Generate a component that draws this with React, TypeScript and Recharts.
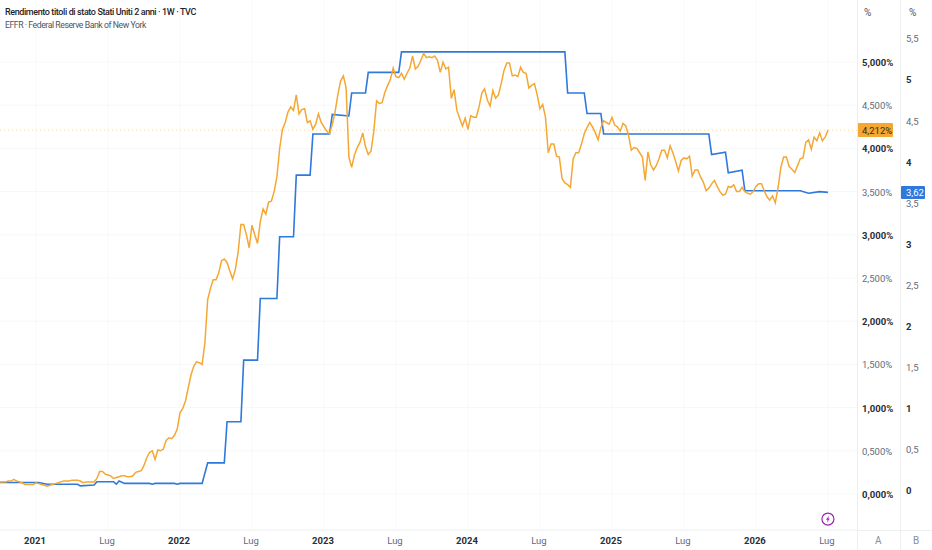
import { CartesianGrid, ComposedChart, Line, ReferenceDot, ReferenceLine, XAxis, YAxis } from "recharts";

// weekly close of the 2 year yield, week 0 is early October 2020
const yieldValues = [
  0.14, 0.14, 0.14, 0.15, 0.15, 0.17, 0.15, 0.14, 0.13, 0.11,
  0.11, 0.11, 0.11, 0.13, 0.12, 0.11, 0.10, 0.09, 0.10, 0.11,
  0.12, 0.13, 0.14, 0.15, 0.15, 0.15, 0.16, 0.16, 0.16, 0.15,
  0.13, 0.14, 0.14, 0.14, 0.14, 0.18, 0.26, 0.26, 0.23, 0.22,
  0.21, 0.18, 0.19, 0.20, 0.21, 0.21, 0.20, 0.20, 0.21, 0.25,
  0.26, 0.27, 0.33, 0.42, 0.48, 0.50, 0.40, 0.51, 0.50, 0.52,
  0.62, 0.65, 0.64, 0.68, 0.75, 0.94, 0.99, 1.08, 1.23, 1.38,
  1.48, 1.53, 1.52, 1.50, 1.75, 2.25, 2.38, 2.48, 2.48, 2.56,
  2.70, 2.72, 2.68, 2.58, 2.49, 2.60, 2.80, 3.12, 3.12, 3.00,
  2.85, 3.11, 3.00, 2.90, 3.15, 3.30, 3.24, 3.38, 3.39, 3.50,
  3.67, 4.00, 4.22, 4.30, 4.42, 4.48, 4.44, 4.62, 4.40, 4.45,
  4.46, 4.30, 4.32, 4.22, 4.28, 4.40, 4.30, 4.25, 4.20, 4.17,
  4.28, 4.42, 4.62, 4.78, 4.84, 4.70, 3.90, 3.78, 3.92, 4.01,
  4.07, 4.18, 4.02, 3.93, 3.97, 4.20, 4.55, 4.52, 4.53, 4.65,
  4.73, 4.80, 4.93, 4.83, 4.82, 4.87, 4.80, 4.87, 4.93, 5.07,
  4.92, 4.95, 5.02, 5.10, 5.05, 5.06, 5.05, 5.07, 5.02, 4.88,
  5.00, 4.92, 4.94, 4.58, 4.68, 4.44, 4.35, 4.26, 4.35, 4.22,
  4.38, 4.36, 4.36, 4.48, 4.64, 4.69, 4.56, 4.49, 4.67, 4.58,
  4.62, 4.75, 4.90, 4.99, 4.99, 4.84, 4.85, 4.83, 4.94, 4.88,
  4.87, 4.70, 4.73, 4.75, 4.62, 4.46, 4.51, 4.36, 3.95, 4.05,
  4.05, 3.91, 3.90, 3.65, 3.60, 3.58, 3.55, 3.88, 3.95, 3.95,
  4.05, 4.17, 4.24, 4.30, 4.25, 4.18, 4.10, 4.24, 4.32, 4.30,
  4.28, 4.36, 4.27, 4.25, 4.20, 4.29, 4.26, 4.15, 3.98, 4.01,
  4.00, 3.95, 3.90, 3.63, 3.96, 3.81, 3.75, 3.80, 3.88, 3.98,
  3.98, 3.89, 4.03, 3.95, 3.85, 3.74, 3.86, 3.89, 3.88, 3.91,
  3.68, 3.75, 3.75, 3.67, 3.61, 3.51, 3.54, 3.59, 3.63, 3.56,
  3.50, 3.46, 3.47, 3.56, 3.55, 3.58, 3.50, 3.50, 3.55, 3.50,
  3.48, 3.47, 3.50, 3.56, 3.59, 3.59, 3.51, 3.44, 3.40, 3.45,
  3.37, 3.55, 3.78, 3.90, 3.90, 3.79, 3.76, 3.72, 3.80, 3.88,
  3.89, 4.07, 4.10, 3.99, 4.13, 4.09, 4.18, 4.09, 4.13, 4.212,
];

// EFFR only moves on a few weeks, so it is kept as break points
const effrWeeks = [
  0, 14, 17, 28, 29, 34, 35, 41, 42, 43, 45, 54, 55, 56, 63, 64, 65, 73,
  75, 81, 82, 87, 88, 93, 94, 100, 101, 106, 107, 112, 113, 119, 120, 126,
  127, 132, 133, 144, 145, 204, 205, 211, 212, 217, 218, 256, 257, 262,
  263, 268, 269, 289, 292, 296, 299,
];
const effrValues = [
  0.09, 0.09, 0.07, 0.07, 0.05, 0.06, 0.10, 0.10, 0.07, 0.11, 0.08, 0.08, 0.07, 0.08, 0.08, 0.07, 0.08, 0.08,
  0.33, 0.33, 0.83, 0.83, 1.58, 1.58, 2.33, 2.33, 3.08, 3.08, 3.83, 3.83, 4.33, 4.33, 4.57, 4.55,
  4.83, 4.83, 5.08, 5.08, 5.33, 5.33, 4.83, 4.83, 4.58, 4.58, 4.33, 4.33, 4.08, 4.11,
  3.86, 3.89, 3.64, 3.64, 3.61, 3.63, 3.62,
];

const xTickWeeks = [13, 39, 65, 91, 117, 143, 169, 195, 221, 247, 273, 299];
const xTickLabels = ["2021", "Lug", "2022", "Lug", "2023", "Lug", "2024", "Lug", "2025", "Lug", "2026", "Lug"];

const leftTicks = [0, 0.5, 1, 1.5, 2, 2.5, 3, 3.5, 4, 4.5, 5];
const rightTicks = [0, 0.5, 1, 1.5, 2, 2.5, 3, 3.5, 4, 4.5, 5, 5.5];
const lastYield = 4.212;
const lastEffr = 3.62;

const yieldRows = yieldValues.map((value, week) => ({ week, value }));
const effrRows = effrWeeks.map((week, i) => ({ week, value: effrValues[i] }));

const ORANGE = "#F5A733";
const BLUE = "#2F78DC";
const FONT = "Roboto, 'Noto Sans', sans-serif";
const LINE = "#eceef0";

const comma = (v: number, digits: number) => v.toFixed(digits).replace(".", ",");

function XTick({ x, y, payload }: any) {
  const label = xTickLabels[xTickWeeks.indexOf(payload.value)];
  const isYear = label !== "Lug";
  return (
    <text x={x - 1} y={y} textAnchor="middle" dy={6} fontFamily={FONT} fontSize={9.5} fontWeight={isYear ? 700 : 400} fill={isYear ? "#2a2e39" : "#666b76"}>
      {label}
    </text>
  );
}

function PercentTick({ x, y, payload }: any) {
  const v: number = payload.value;
  if (v === lastYield) {
    return (
      <g>
        <rect x={x - 6} y={y - 7} width={36} height={14} rx={1} fill={ORANGE} />
        <text x={x - 1} y={y} dy={3.5} fontFamily={FONT} fontSize={9.5} fill="#3a2a10">{comma(v, 3)}%</text>
      </g>
    );
  }
  const whole = Number.isInteger(v);
  return (
    <text x={x - 1} y={y} dy={4} fontFamily={FONT} fontSize={9.5} fontWeight={whole ? 700 : 400} fill={whole ? "#2a2e39" : "#666b76"}>
      {comma(v, 3)}%
    </text>
  );
}

function RateTick({ x, y, payload }: any) {
  const v: number = payload.value;
  if (v === lastEffr) {
    return (
      <g>
        <rect x={x - 5} y={y - 6.5} width={24} height={13} rx={1} fill={BLUE} />
        <text x={x} y={y} dy={3.5} fontFamily={FONT} fontSize={9.5} fill="#fff">{comma(v, 2)}</text>
      </g>
    );
  }
  const whole = Number.isInteger(v);
  return (
    <text x={x} y={y} dy={4.5} fontFamily={FONT} fontSize={9.5} fontWeight={whole ? 700 : 400} fill={whole ? "#2a2e39" : "#666b76"}>
      {comma(v, 1).replace(",0", "")}
    </text>
  );
}

function BoltDot({ cx, cy }: any) {
  return (
    <g>
      <circle cx={cx} cy={cy} r={6} fill="#fff" stroke="#9c27b0" strokeWidth={1.2} />
      <path d={`M${cx + 1.2} ${cy - 3.6}L${cx - 2} ${cy + 0.6}H${cx - 0.2}L${cx - 1.2} ${cy + 3.6}L${cx + 2} ${cy - 0.6}H${cx + 0.2}Z`} fill="#9c27b0" />
    </g>
  );
}

const corner = (left: number, top: number, text: string, color = "#666b76") => (
  <div style={{ position: "absolute", left, top, fontFamily: FONT, fontSize: 10, color }}>{text}</div>
);

export default function App() {
  return (
    <div style={{ position: "absolute", left: 0, top: 0, width: 932, height: 550, background: "#fff", overflow: "hidden" }}>
      <ComposedChart width={932} height={550} margin={{ top: 0, right: 0, bottom: 0, left: 0 }}>
        <CartesianGrid
          xAxisId="week"
          yAxisId="pct"
          stroke="#f7f8f9"
          horizontalValues={leftTicks}
          verticalValues={xTickWeeks}
        />
        <XAxis
          xAxisId="week"
          dataKey="week"
          type="number"
          domain={[0, 309.5]}
          ticks={xTickWeeks}
          height={20}
          interval={0}
          tick={<XTick />}
          tickLine={false}
          stroke={LINE}
          allowDataOverflow
        />
        <YAxis
          yAxisId="pct"
          orientation="right"
          type="number"
          width={43}
          domain={[-0.417, 5.718]}
          ticks={[...leftTicks, lastYield]}
          interval={0}
          tick={<PercentTick />}
          tickLine={false}
          axisLine={false}
          tickMargin={0}
          allowDataOverflow
        />
        <YAxis
          yAxisId="rate"
          orientation="right"
          type="number"
          width={32}
          domain={[-0.487, 5.961]}
          ticks={[...rightTicks, lastEffr]}
          interval={0}
          tick={<RateTick />}
          tickLine={false}
          axisLine={false}
          tickMargin={0}
          allowDataOverflow
        />
        <ReferenceLine xAxisId="week" yAxisId="pct" y={lastYield} stroke={ORANGE} strokeOpacity={0.5} strokeDasharray="1 3" />
        <Line
          xAxisId="week"
          yAxisId="rate"
          data={effrRows}
          dataKey="value"
          type="linear"
          stroke={BLUE}
          strokeWidth={1.6}
          dot={false}
          activeDot={false}
          isAnimationActive={false}
        />
        <Line
          xAxisId="week"
          yAxisId="pct"
          data={yieldRows}
          dataKey="value"
          type="linear"
          stroke={ORANGE}
          strokeWidth={1.5}
          dot={false}
          activeDot={false}
          isAnimationActive={false}
        />
        <ReferenceDot xAxisId="week" yAxisId="pct" x={299} y={-0.29} r={6} shape={<BoltDot />} />
      </ComposedChart>

      <div style={{ position: "absolute", left: 5, top: 7, fontFamily: FONT, fontSize: 9, letterSpacing: -0.4, fontWeight: 500, color: "#1f222b", whiteSpace: "nowrap" }}>
        Rendimento titoli di stato Stati Uniti 2 anni · 1W · TVC
      </div>
      <div style={{ position: "absolute", left: 5, top: 20, fontFamily: FONT, fontSize: 8.7, letterSpacing: -0.45, color: "#50535e", whiteSpace: "nowrap" }}>
        EFFR · Federal Reserve Bank of New York
      </div>

      <div style={{ position: "absolute", left: 857, top: 0, width: 1, height: 550, background: LINE }} />
      <div style={{ position: "absolute", left: 900, top: 0, width: 1, height: 550, background: LINE }} />
      <div style={{ position: "absolute", left: 857, top: 530, width: 75, height: 1, background: LINE }} />
      {corner(864, 7, "%", "#50535e")}
      {corner(909, 7, "%", "#50535e")}
      {corner(875, 535, "A", "#8a8e98")}
      {corner(913, 535, "B", "#8a8e98")}
    </div>
  );
}
